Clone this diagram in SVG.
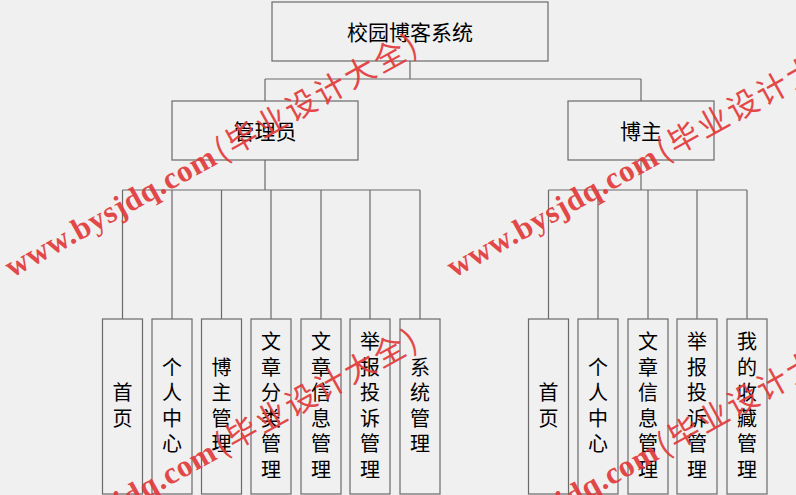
<svg xmlns="http://www.w3.org/2000/svg" width="796" height="495" viewBox="0 0 796 495">
<defs>
<style>
.box{fill:#f0f0f0;stroke:#6a6a6a;stroke-width:1.2}
.ln{fill:none;stroke:#6a6a6a;stroke-width:1.2}
.t{font-family:"Noto Sans CJK SC","Noto Sans",sans-serif;font-size:21px;fill:#000;text-anchor:middle}
.v{font-family:"Noto Sans CJK SC","Noto Sans",sans-serif;font-size:20px;fill:#000;text-anchor:middle}
.wl{font-family:"Liberation Serif","Noto Sans CJK SC",serif;font-size:31px;font-weight:bold;fill:#e23a3a;opacity:0.92}
.wc{font-family:"Noto Sans CJK SC","Liberation Serif",sans-serif;font-size:31px;font-weight:normal;fill:#e23a3a;opacity:0.92}
</style>
<g id="wmark">
<text class="wl" x="0" y="0" textLength="236" lengthAdjust="spacing">www.bysjdq.com</text>
<text class="wc" x="240" y="0" textLength="226" lengthAdjust="spacing">(毕业设计大全)</text>
</g>
</defs>
<rect x="0" y="0" width="796" height="495" fill="#f0f0f0"/>
<g id="connectors">
<path class="ln" d="M410 61V79M265 79H641M265 79V101M641 79V101"/>
<path class="ln" d="M265 160V190M122.5 190H420M122.5 190V319M172 190V319M221.5 190V319M271 190V319M321 190V319M370 190V319M420 190V319"/>
<path class="ln" d="M641 160V190M548.5 190H747M548.5 190V319M598 190V319M648 190V319M697 190V319M747 190V319"/>
</g>
<g id="root"><rect class="box" x="272" y="2" width="276" height="59"/><text class="t" x="410" y="40">校园博客系统</text></g>
<g id="admin"><rect class="box" x="172" y="101" width="186" height="59"/><text class="t" x="265" y="139">管理员</text></g>
<g id="blogger"><rect class="box" x="568" y="101" width="146" height="59"/><text class="t" x="641" y="139">博主</text></g>
<g id="a1"><rect class="box" x="102.5" y="319" width="40" height="175"/><text class="v"><tspan x="122.5" y="400.2">首</tspan><tspan x="122.5" y="425.8">页</tspan></text></g>
<g id="a2"><rect class="box" x="152" y="319" width="40" height="175"/><text class="v"><tspan x="172" y="374.6">个</tspan><tspan x="172" y="400.2">人</tspan><tspan x="172" y="425.8">中</tspan><tspan x="172" y="451.4">心</tspan></text></g>
<g id="a3"><rect class="box" x="201.5" y="319" width="40" height="175"/><text class="v"><tspan x="221.5" y="374.6">博</tspan><tspan x="221.5" y="400.2">主</tspan><tspan x="221.5" y="425.8">管</tspan><tspan x="221.5" y="451.4">理</tspan></text></g>
<g id="a4"><rect class="box" x="251" y="319" width="40" height="175"/><text class="v"><tspan x="271" y="349">文</tspan><tspan x="271" y="374.6">章</tspan><tspan x="271" y="400.2">分</tspan><tspan x="271" y="425.8">类</tspan><tspan x="271" y="451.4">管</tspan><tspan x="271" y="477">理</tspan></text></g>
<g id="a5"><rect class="box" x="301" y="319" width="40" height="175"/><text class="v"><tspan x="321" y="349">文</tspan><tspan x="321" y="374.6">章</tspan><tspan x="321" y="400.2">信</tspan><tspan x="321" y="425.8">息</tspan><tspan x="321" y="451.4">管</tspan><tspan x="321" y="477">理</tspan></text></g>
<g id="a6"><rect class="box" x="350" y="319" width="40" height="175"/><text class="v"><tspan x="370" y="349">举</tspan><tspan x="370" y="374.6">报</tspan><tspan x="370" y="400.2">投</tspan><tspan x="370" y="425.8">诉</tspan><tspan x="370" y="451.4">管</tspan><tspan x="370" y="477">理</tspan></text></g>
<g id="a7"><rect class="box" x="400" y="319" width="40" height="175"/><text class="v"><tspan x="420" y="374.6">系</tspan><tspan x="420" y="400.2">统</tspan><tspan x="420" y="425.8">管</tspan><tspan x="420" y="451.4">理</tspan></text></g>
<g id="b1"><rect class="box" x="528.5" y="319" width="40" height="175"/><text class="v"><tspan x="548.5" y="400.2">首</tspan><tspan x="548.5" y="425.8">页</tspan></text></g>
<g id="b2"><rect class="box" x="578" y="319" width="40" height="175"/><text class="v"><tspan x="598" y="374.6">个</tspan><tspan x="598" y="400.2">人</tspan><tspan x="598" y="425.8">中</tspan><tspan x="598" y="451.4">心</tspan></text></g>
<g id="b3"><rect class="box" x="628" y="319" width="40" height="175"/><text class="v"><tspan x="648" y="349">文</tspan><tspan x="648" y="374.6">章</tspan><tspan x="648" y="400.2">信</tspan><tspan x="648" y="425.8">息</tspan><tspan x="648" y="451.4">管</tspan><tspan x="648" y="477">理</tspan></text></g>
<g id="b4"><rect class="box" x="677" y="319" width="40" height="175"/><text class="v"><tspan x="697" y="349">举</tspan><tspan x="697" y="374.6">报</tspan><tspan x="697" y="400.2">投</tspan><tspan x="697" y="425.8">诉</tspan><tspan x="697" y="451.4">管</tspan><tspan x="697" y="477">理</tspan></text></g>
<g id="b5"><rect class="box" x="727" y="319" width="40" height="175"/><text class="v"><tspan x="747" y="349">我</tspan><tspan x="747" y="374.6">的</tspan><tspan x="747" y="400.2">收</tspan><tspan x="747" y="425.8">藏</tspan><tspan x="747" y="451.4">管</tspan><tspan x="747" y="477">理</tspan></text></g>
<g id="watermarks">
<use href="#wmark" transform="translate(12,278) rotate(-29)"/>
<use href="#wmark" transform="translate(454,278) rotate(-29)"/>
<use href="#wmark" transform="translate(12,573) rotate(-29)"/>
<use href="#wmark" transform="translate(454,573) rotate(-29)"/>
</g>
</svg>
